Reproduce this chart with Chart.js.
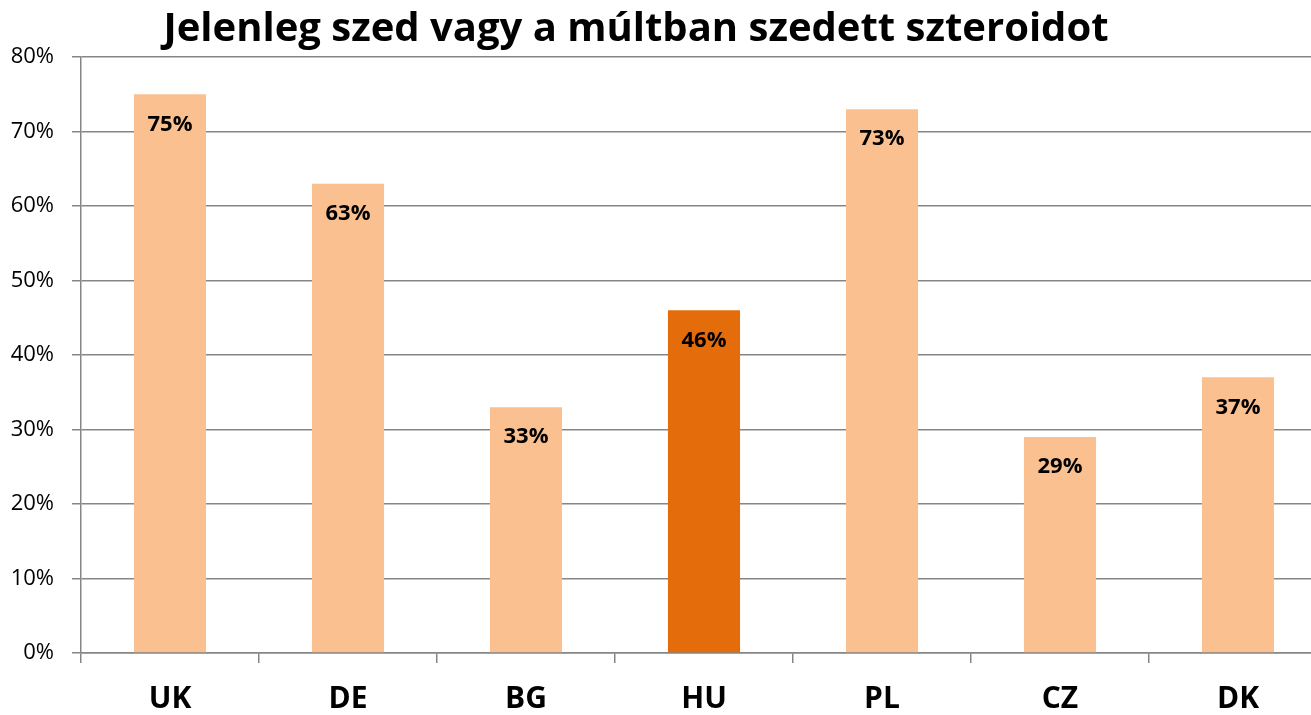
<!DOCTYPE html>
<html>
<head>
<meta charset="utf-8">
<script src="https://cdn.jsdelivr.net/npm/chart.js@4.4.1/dist/chart.umd.min.js"></script>
<style>
  html, body { margin: 0; padding: 0; background: #fff; overflow: hidden; }
  #wrap { width: 1330px; height: 715px; }
</style>
</head>
<body>
<div id="wrap"><canvas id="chart" width="1330" height="715"></canvas></div>
<script>
// Chart data
const TITLE = 'Jelenleg szed vagy a múltban szedett szteroidot';
const countries = ['UK', 'DE', 'BG', 'HU', 'PL', 'CZ', 'DK'];
const shares = [75, 63, 33, 46, 73, 29, 37];
const highlight = 'HU';

const LIGHT = '#FAC090';
const DARK = '#E46C0A';
const GRID = '#868686';
const FONT = '"Open Sans", "Liberation Sans", sans-serif';

// Draws the title and the value labels inside the top of each bar
const labelsPlugin = {
  id: 'barLabels',
  afterDatasetsDraw(chart) {
    const ctx = chart.ctx;
    const meta = chart.getDatasetMeta(0);
    ctx.save();
    ctx.fillStyle = '#000';
    ctx.textAlign = 'center';
    ctx.textBaseline = 'middle';
    ctx.font = 'bold 22px ' + FONT;
    meta.data.forEach((bar, i) => {
      ctx.fillText(shares[i] + '%', bar.x, bar.y + 30);
    });
    ctx.font = 'bold 40px ' + FONT;
    ctx.fillText(TITLE, 636, 30);
    ctx.restore();
  },
};

const ctx = document.getElementById('chart').getContext('2d');
// eslint-disable-next-line no-undef
new Chart(ctx, {
  type: 'bar',
  data: {
    labels: countries,
    datasets: [
      {
        data: shares,
        backgroundColor: countries.map((c) => (c === highlight ? DARK : LIGHT)),
        borderWidth: 0,
        barPercentage: 0.405,
        categoryPercentage: 1,
      },
    ],
  },
  options: {
    responsive: false,
    animation: false,
    layout: {
      padding: { top: 57, right: 3, left: 0, bottom: 0 },
    },
    plugins: {
      legend: { display: false },
      title: { display: false },
      tooltip: { enabled: false },
    },
    scales: {
      y: {
        min: 0,
        max: 80,
        ticks: {
          stepSize: 10,
          padding: 18,
          color: '#000',
          font: { family: FONT, size: 22 },
          callback: (v) => v + '%',
        },
        grid: {
          color: GRID,
          lineWidth: 1.5,
          tickLength: 9,
        },
        border: { color: GRID, width: 1.5 },
        afterFit: (scale) => {
          scale.width = 81;
        },
      },
      x: {
        offset: true,
        ticks: {
          padding: 18,
          color: '#000',
          font: { family: FONT, size: 30, weight: 'bold' },
        },
        grid: {
          offset: true,
          drawOnChartArea: false,
          color: GRID,
          lineWidth: 1.5,
          tickLength: 10,
        },
        border: { color: GRID, width: 1.5 },
        afterFit: (scale) => {
          scale.height = 62;
        },
      },
    },
  },
  plugins: [labelsPlugin],
});
</script>
</body>
</html>
